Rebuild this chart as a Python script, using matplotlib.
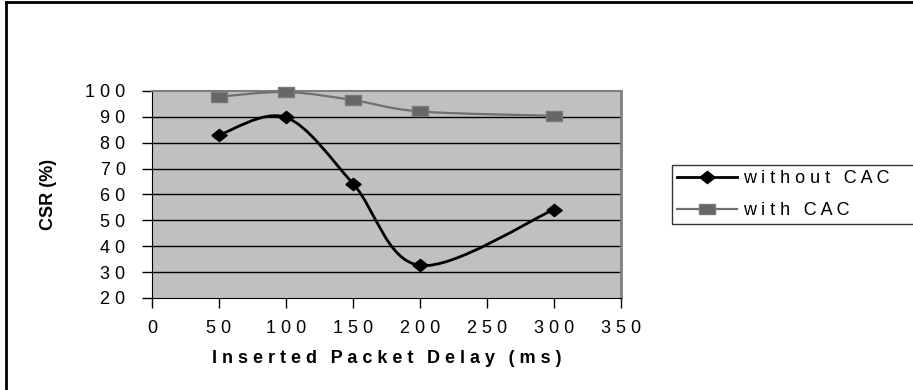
import matplotlib
matplotlib.use("Agg")
import matplotlib.pyplot as plt
import numpy as np
from matplotlib.path import Path
from matplotlib.patches import PathPatch
from matplotlib.lines import Line2D

plt.rcParams['font.family'] = ['Liberation Sans', 'DejaVu Sans']

# data
delay = [50, 100, 150, 200, 300]
csr_without = [83, 89.8, 64.2, 32.6, 54.2]
csr_with = [97.8, 99.6, 96.5, 92.1, 90.4]
series_names = ["without CAC", "with CAC"]
x_ticks = [0, 50, 100, 150, 200, 250, 300, 350]
y_ticks = [20, 30, 40, 50, 60, 70, 80, 90, 100]

# wide-ish diamond and square markers like the original
DIAMOND = [(-1, 0), (0, 0.8), (1, 0), (0, -0.8), (-1, 0)]
SQUARE = [(-1, -0.68), (1, -0.68), (1, 0.68), (-1, 0.68), (-1, -0.68)]


def spaced(s):
    # the original renders text with wide letter spacing
    return " ".join(s.replace(" ", "\u2009"))


def smooth_path(xs, ys):
    # Excel style smoothed line: Catmull-Rom segments as cubic Beziers
    pts = np.column_stack([xs, ys]).astype(float)
    n = len(pts)
    verts = [pts[0]]
    codes = [Path.MOVETO]
    for i in range(n - 1):
        p0 = pts[max(i - 1, 0)]
        p1 = pts[i]
        p2 = pts[i + 1]
        p3 = pts[min(i + 2, n - 1)]
        c1 = p1 + (p2 - p0) / 6
        c2 = p2 - (p3 - p1) / 6
        verts += [c1, c2, p2]
        codes += [Path.CURVE4] * 3
    return Path(verts, codes)


fig = plt.figure(figsize=(9.13, 3.9), dpi=100)
ax = fig.add_axes([152 / 913, 1 - 298 / 390, 469 / 913, 207 / 390])
ax.set_facecolor('#c0c0c0')

ax.set_xlim(0, 350)
ax.set_ylim(20, 100)
ax.set_xticks(x_ticks)
ax.set_yticks(y_ticks)
ax.set_xticklabels([spaced(str(t)) for t in x_ticks], fontsize=13)
ax.set_yticklabels([spaced(str(t)) for t in y_ticks], fontsize=13)
ax.tick_params(direction='out', length=7, width=1, color='black')
ax.tick_params(axis='y', pad=12)
ax.tick_params(axis='x', pad=9)

for y in y_ticks[1:-1]:
    ax.axhline(y, color='black', lw=1, zorder=1)

ax.spines['top'].set_color('#808080')
ax.spines['right'].set_color('#808080')
ax.spines['top'].set_linewidth(1.5)
ax.spines['right'].set_linewidth(2)
ax.spines['left'].set_color('black')
ax.spines['bottom'].set_color('black')

ax.add_patch(PathPatch(smooth_path(delay, csr_with), fill=False,
                       edgecolor='#707070', lw=1.6, zorder=3))
ax.plot(delay, csr_with, ls='none', marker=SQUARE, ms=11.5,
        color='#666666', mec='#7a7a7a', mew=1, zorder=4, clip_on=False)
ax.add_patch(PathPatch(smooth_path(delay, csr_without), fill=False,
                       edgecolor='black', lw=2, zorder=3))
ax.plot(delay, csr_without, ls='none', marker=DIAMOND, ms=11,
        color='black', zorder=4, clip_on=False)

ax.set_xlabel(spaced("Inserted Packet Delay (ms)"), fontsize=13,
              fontweight='bold')
ax.xaxis.set_label_coords(0.5, (298 - 350) / 207)
ax.set_ylabel("CSR (%)", fontsize=13, fontweight='bold')
ax.yaxis.set_label_coords((57 - 152) / 469, 0.5)

handles = [
    Line2D([], [], color='black', lw=2, marker=DIAMOND, ms=11),
    Line2D([], [], color='#707070', lw=1.6, marker=SQUARE, ms=11.5,
           mfc='#666666', mec='#7a7a7a'),
]
# expand mode lets the frame run past the right edge, as in the crop
leg = fig.legend(handles, [spaced(s) for s in series_names],
                 loc='upper left', mode='expand',
                 bbox_to_anchor=(672 / 913, 1 - 222 / 390, 0.3, 57 / 390),
                 fontsize=13, frameon=True, fancybox=False, handlelength=3.3,
                 handletextpad=0.35, borderpad=0.3, labelspacing=0.8,
                 borderaxespad=0)
leg.get_frame().set_edgecolor('black')
leg.get_frame().set_linewidth(1)

# chart area border (only the top and left edges are in the crop)
fig.add_artist(Line2D([6 / 913, 6 / 913], [0, 1 - 2 / 390], color='black',
                      lw=2, transform=fig.transFigure))
fig.add_artist(Line2D([6 / 913, 1], [1 - 2 / 390, 1 - 2 / 390], color='black',
                      lw=2, transform=fig.transFigure))

fig.savefig('out.png', dpi=100)
